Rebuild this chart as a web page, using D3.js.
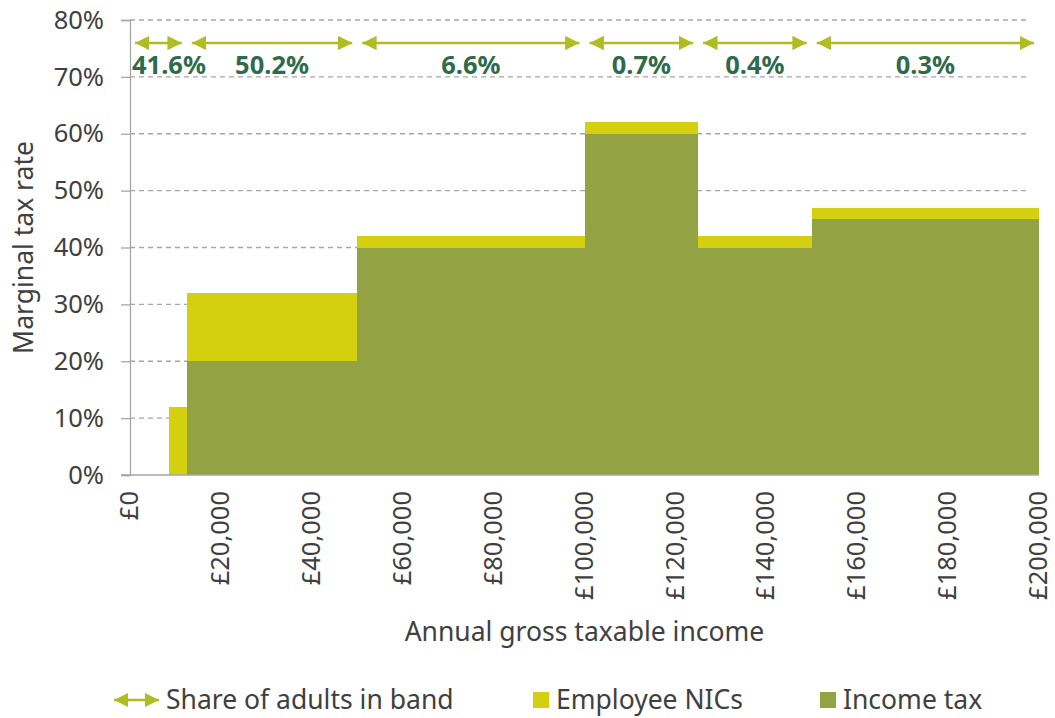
<!DOCTYPE html>
<html>
<head>
<meta charset="utf-8">
<script src="https://cdn.jsdelivr.net/npm/d3@7"></script>
<style>
  body { margin: 0; background: #fff; }
  svg { font-family: "Noto Sans", "Open Sans", sans-serif; }
</style>
</head>
<body>
<svg id="chart" width="1055" height="718"></svg>
<script>
// income steps (2019-20 thresholds) and rates in each step
var edges = [0, 8632, 12500, 50000, 100000, 125000, 150000, 200000];
var incomeTax = [0, 0, 20, 40, 60, 40, 45];
var nics = [0, 12, 12, 2, 2, 2, 2];

// bands for the "share of adults" arrows
var bandEdges = [0, 12500, 50000, 100000, 125000, 150000, 200000];
var shares = ["41.6%", "50.2%", "6.6%", "0.7%", "0.4%", "0.3%"];

var xTicks = [0, 20000, 40000, 60000, 80000, 100000, 120000, 140000, 160000, 180000, 200000];
var yTicks = [0, 10, 20, 30, 40, 50, 60, 70, 80];

var colNic = "#d4cf0f", colTax = "#93a344", colArrow = "#afbd22",
    colLabel = "#2f6a4c", colText = "#404040", colGrid = "#a6a6a6";

var svg = d3.select("#chart"),
  margin = {top: 20, right: 16, bottom: 243, left: 130},
  width = 1055 - margin.left - margin.right,
  height = 718 - margin.top - margin.bottom,
  g = svg.append("g").attr("transform", "translate(" + margin.left + "," + margin.top + ")");

var x = d3.scaleLinear().domain([0, 200000]).range([0, width]);
var y = d3.scaleLinear().domain([0, 80]).range([height, 0]);

// gridlines
g.append("g")
  .selectAll("line")
  .data(yTicks.slice(1))
  .enter().append("line")
    .attr("x1", 0).attr("x2", width - 10)
    .attr("y1", function(d) { return y(d); })
    .attr("y2", function(d) { return y(d); })
    .attr("stroke", colGrid)
    .attr("stroke-width", 1.3)
    .attr("stroke-dasharray", "5,4");

// steps
var steps = d3.range(edges.length - 1).map(function(i) {
  return {x0: edges[i], x1: edges[i + 1], tax: incomeTax[i], nic: nics[i]};
});

g.append("g").selectAll("rect")
  .data(steps)
  .enter().append("rect")
    .attr("x", function(d) { return x(d.x0); })
    .attr("width", function(d) { return x(d.x1) - x(d.x0); })
    .attr("y", function(d) { return y(d.tax); })
    .attr("height", function(d) { return y(0) - y(d.tax); })
    .attr("fill", colTax)
    .attr("shape-rendering", "crispEdges");

g.append("g").selectAll("rect")
  .data(steps)
  .enter().append("rect")
    .attr("x", function(d) { return x(d.x0); })
    .attr("width", function(d) { return x(d.x1) - x(d.x0); })
    .attr("y", function(d) { return y(d.tax + d.nic); })
    .attr("height", function(d) { return y(d.tax) - y(d.tax + d.nic); })
    .attr("fill", colNic)
    .attr("shape-rendering", "crispEdges");

// axes
var yAxis = g.append("g")
  .call(d3.axisLeft(y).tickValues(yTicks).tickSize(9).tickPadding(17)
    .tickFormat(function(d) { return d + "%"; }));
yAxis.select(".domain").attr("stroke", colGrid).attr("stroke-width", 1.3);
yAxis.selectAll(".tick line").attr("stroke", colGrid).attr("stroke-width", 1.3);
yAxis.selectAll("text").attr("fill", colText).attr("font-size", 25.5)
  .attr("font-family", "Noto Sans");

var xAxis = g.append("g")
  .attr("transform", "translate(0," + height + ")")
  .call(d3.axisBottom(x).tickValues(xTicks).tickSize(0).tickSizeOuter(0)
    .tickFormat(function(d) { return "£" + d3.format(",")(d); }));
xAxis.select(".domain").attr("stroke", colGrid).attr("stroke-width", 1.3)
  .attr("d", "M-9,0H" + width);
xAxis.selectAll("text")
  .attr("fill", colText).attr("font-size", 25.5).attr("font-family", "Noto Sans")
  .attr("text-anchor", "end")
  .attr("transform", "rotate(-90)")
  .attr("x", -16).attr("y", 0).attr("dy", "0.3em");

// axis titles
svg.append("text")
  .attr("transform", "translate(24," + (margin.top + height / 2) + ") rotate(-90)")
  .attr("text-anchor", "middle").attr("dy", "0.35em")
  .attr("fill", colText).attr("font-size", 26.5)
  .text("Marginal tax rate");

svg.append("text")
  .attr("x", margin.left + width / 2).attr("y", 641)
  .attr("text-anchor", "middle")
  .attr("fill", colText).attr("font-size", 26.5)
  .text("Annual gross taxable income");

// share-of-adults arrows
var defs = svg.append("defs");
defs.append("marker").attr("id", "head")
  .attr("viewBox", "0 0 10 10").attr("refX", 10).attr("refY", 5)
  .attr("markerWidth", 6).attr("markerHeight", 6)
  .attr("markerUnits", "strokeWidth")
  .attr("orient", "auto-start-reverse")
  .append("path").attr("d", "M0,0L10,5L0,10Z").attr("fill", colArrow);

var bands = d3.range(shares.length).map(function(i) {
  return {x0: bandEdges[i], x1: bandEdges[i + 1], share: shares[i]};
});
var arrowY = 23, inset = 5;

var ab = g.append("g").selectAll("g").data(bands).enter().append("g");
ab.append("line")
  .attr("x1", function(d) { return x(d.x0) + inset; })
  .attr("x2", function(d) { return x(d.x1) - inset; })
  .attr("y1", arrowY).attr("y2", arrowY)
  .attr("stroke", colArrow).attr("stroke-width", 2.4)
  .attr("marker-start", "url(#head)")
  .attr("marker-end", "url(#head)");

ab.append("text")
  .attr("x", function(d) { return (x(d.x0) + x(d.x1)) / 2; })
  .attr("y", 54)
  .attr("text-anchor", "middle")
  .attr("font-size", 25.5).attr("font-weight", "bold")
  .attr("fill", colLabel)
  .text(function(d) { return d.share; })
  .each(function() {
    // keep labels inside the plot on the left
    var bb = this.getBBox();
    if (bb.x < 2) d3.select(this).attr("text-anchor", "start").attr("x", 2);
  });

// legend
var leg = svg.append("g").attr("transform", "translate(0,700)")
  .attr("font-size", 26.5).attr("fill", colText);

leg.append("line")
  .attr("x1", 114).attr("x2", 159).attr("y1", 0).attr("y2", 0)
  .attr("stroke", colArrow).attr("stroke-width", 2.4)
  .attr("marker-start", "url(#head)").attr("marker-end", "url(#head)");
leg.append("text").attr("x", 166).attr("dy", "0.35em").text("Share of adults in band");

leg.append("rect").attr("x", 533).attr("y", -8).attr("width", 16).attr("height", 16).attr("fill", colNic);
leg.append("text").attr("x", 556).attr("dy", "0.35em").text("Employee NICs");

leg.append("rect").attr("x", 820).attr("y", -8).attr("width", 16).attr("height", 16).attr("fill", colTax);
leg.append("text").attr("x", 843).attr("dy", "0.35em").text("Income tax");
</script>
</body>
</html>
